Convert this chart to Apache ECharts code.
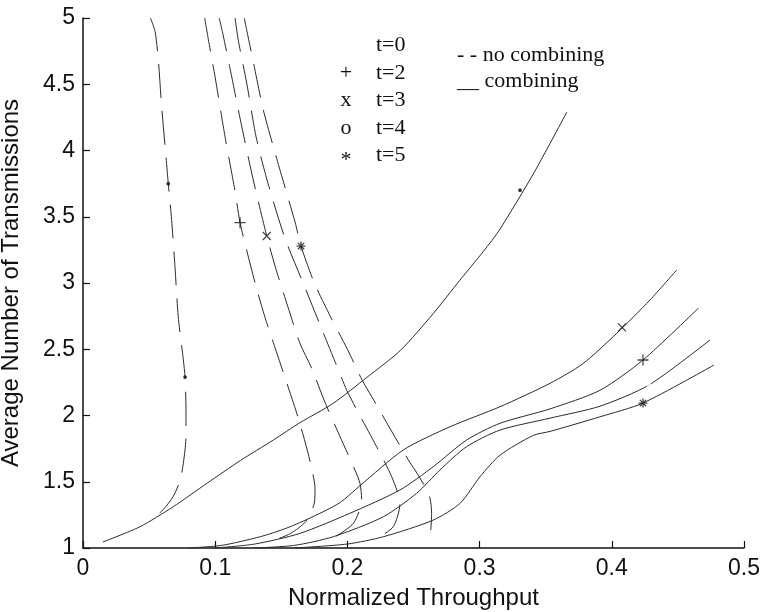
<!DOCTYPE html>
<html><head><meta charset="utf-8">
<script src="https://cdn.jsdelivr.net/npm/echarts@6/dist/echarts.min.js"></script>
<style>html,body{margin:0;padding:0;background:#fff}#c{width:764px;height:612px}</style>
</head><body><div id="c"></div>
<script>
// ---- tick labels ----
const xTicks = [0, 0.1, 0.2, 0.3, 0.4, 0.5];
const yTicks = [1, 1.5, 2, 2.5, 3, 3.5, 4, 4.5, 5];

// ---- no combining (dashed) ----
const noCombT0 = [[0.051,5.0],[0.0545,4.9],[0.057,4.68],[0.0595,4.33],[0.0628,3.95],[0.0645,3.75],[0.067,3.48],[0.0696,3.12],[0.072,2.75],[0.0759,2.42],[0.0772,2.29],[0.0779,2.04],[0.0779,1.84],[0.0759,1.64],[0.0734,1.51],[0.0683,1.39],[0.0607,1.29],[0.053,1.22]];
const noCombT2 = [[0.092,5.0],[0.0955,4.8],[0.1,4.55],[0.1075,4.1],[0.1145,3.72],[0.1188,3.455],[0.124,3.24],[0.131,2.97],[0.138,2.73],[0.146,2.49],[0.154,2.25],[0.1616,2.02],[0.168,1.8],[0.173,1.6],[0.1755,1.45],[0.175,1.34],[0.1685,1.2],[0.157,1.11],[0.14,1.04]];
const noCombT3 = [[0.103,5.0],[0.1057,4.885],[0.1112,4.62],[0.1188,4.243],[0.1288,3.777],[0.139,3.355],[0.1455,3.12],[0.155,2.82],[0.1641,2.545],[0.173,2.356],[0.183,2.1],[0.194,1.85],[0.2057,1.589],[0.2095,1.488],[0.2108,1.362],[0.2045,1.186],[0.19,1.08]];
const noCombT4 = [[0.115,5.0],[0.1175,4.83],[0.124,4.5],[0.131,4.1],[0.14,3.75],[0.1528,3.337],[0.1665,3.0],[0.1807,2.65],[0.1909,2.4],[0.1995,2.19],[0.2032,2.117],[0.2234,1.74],[0.2335,1.538],[0.2398,1.337],[0.2347,1.161],[0.222,1.07]];
const noCombT5 = [[0.122,5.0],[0.1238,4.91],[0.1288,4.67],[0.1364,4.306],[0.1465,3.94],[0.1604,3.46],[0.1649,3.279],[0.175,3.0],[0.187,2.75],[0.2,2.5],[0.211,2.27],[0.2184,2.142],[0.2461,1.664],[0.2511,1.589],[0.2587,1.463],[0.2625,1.375],[0.2637,1.262],[0.263,1.12]];

// ---- combining (solid) ----
const combT0 = [[0.015,1.045],[0.043,1.16],[0.068,1.31],[0.094,1.49],[0.119,1.66],[0.144,1.815],[0.164,1.945],[0.189,2.09],[0.215,2.29],[0.24,2.49],[0.265,2.77],[0.285,3.02],[0.303,3.24],[0.315,3.4],[0.341,3.83],[0.366,4.29]];
const combT3 = [[0.08,1.0],[0.105,1.02],[0.134,1.085],[0.154,1.15],[0.174,1.237],[0.194,1.34],[0.2095,1.47],[0.2423,1.74],[0.2776,1.915],[0.3154,2.066],[0.3533,2.243],[0.378,2.39],[0.4037,2.62],[0.4289,2.872],[0.4491,3.098]];
const combT2 = [[0.1,1.0],[0.13,1.03],[0.164,1.11],[0.2019,1.262],[0.2398,1.438],[0.265,1.614],[0.2902,1.815],[0.3154,1.941],[0.3533,2.05],[0.391,2.19],[0.4236,2.419],[0.4654,2.809]];
const combT4 = [[0.13,1.0],[0.16,1.02],[0.1893,1.085],[0.2272,1.236],[0.2524,1.413],[0.27,1.589],[0.2902,1.765],[0.3154,1.89],[0.3533,1.98],[0.391,2.07],[0.4281,2.23],[0.4743,2.57]];
const combT5 = [[0.16,1.0],[0.2,1.03],[0.2272,1.085],[0.265,1.211],[0.2852,1.337],[0.3003,1.538],[0.3154,1.7],[0.3406,1.85],[0.3533,1.88],[0.391,1.99],[0.4236,2.094],[0.4773,2.381]];

// ---- marker points ----
const plusPts = [[0.1188,3.455],[0.4236,2.419]];
const crossPts = [[0.139,3.355],[0.4077,2.665]];
const circlePts = [[0.1528,3.337],[0.4281,2.23]];
const starPts = [[0.1649,3.279],[0.4236,2.094]];
const dotPts = [[0.0645,3.75],[0.0772,2.29],[0.3306,3.70]];

// ---- legend text ----
const legendSymbols = ['', '+', 'x', 'o', '*'];
const legendLabels = ['t=0', 't=2', 't=3', 't=4', 't=5'];
const styleLabels = ['- - no combining', '__ combining'];

const LINE = '#2b2b2b';
function line(name, data, dashed) {
  return { type: 'line', name, data, showSymbol: false, smooth: 0.25, silent: true,
    lineStyle: { color: LINE, width: 1, type: dashed ? [34, 13] : 'solid' }, z: 2 };
}
function marks(data, symbol, size) {
  return { type: 'scatter', data, symbol, symbolSize: size, silent: true, z: 3,
    itemStyle: { color: symbol === 'circle' ? '#222' : 'transparent', borderColor: '#1a1a1a', borderWidth: 1.3 } };
}

const SERIF = '"Liberation Serif", "Times New Roman", serif';
const SANS = '"Liberation Sans", Arial, Helvetica, sans-serif';
const graphics = [];
const rowY = [45, 73, 100, 128, 155];
legendLabels.forEach((t, i) => {
  if (legendSymbols[i]) graphics.push({ type: 'text', x: 346, y: rowY[i] + (legendSymbols[i] === '*' ? 5 : 0),
    style: { text: legendSymbols[i], font: '22px ' + SERIF, fill: '#111', textAlign: 'center', textVerticalAlign: 'middle' } });
  graphics.push({ type: 'text', x: 376, y: rowY[i], style: { text: t, font: '22px ' + SERIF, fill: '#111', textAlign: 'left', textVerticalAlign: 'middle' } });
});
graphics.push({ type: 'text', x: 457, y: 55, style: { text: styleLabels[0], font: '22px ' + SERIF, fill: '#111', textAlign: 'left', textVerticalAlign: 'middle' } });
graphics.push({ type: 'text', x: 457, y: 81, style: { text: styleLabels[1], font: '22px ' + SERIF, fill: '#111', textAlign: 'left', textVerticalAlign: 'middle' } });

const chart = echarts.init(document.getElementById('c'));
chart.setOption({
  animation: false,
  backgroundColor: '#fff',
  grid: { left: 83, right: 20, top: 18, bottom: 64, containLabel: false, outerBoundsMode: 'none' },
  xAxis: {
    type: 'value', min: xTicks[0], max: xTicks[xTicks.length - 1], interval: 0.1,
    name: 'Normalized Throughput', nameLocation: 'middle', nameGap: 38,
    nameTextStyle: { fontFamily: SANS, fontSize: 24, color: '#111' },
    axisLine: { show: true, lineStyle: { color: '#111', width: 1.5 } },
    axisTick: { show: true, inside: true, length: 7, lineStyle: { color: '#111', width: 1.2 } },
    axisLabel: { fontFamily: SANS, fontSize: 23, color: '#111', margin: 9,
      formatter: v => { const t = xTicks.find(a => Math.abs(a - v) < 1e-9); return t === undefined ? '' : String(t); } },
    splitLine: { show: false }
  },
  yAxis: {
    type: 'value', min: yTicks[0], max: yTicks[yTicks.length - 1], interval: 0.5,
    name: 'Average Number of Transmissions', nameLocation: 'middle', nameGap: 60,
    nameTextStyle: { fontFamily: SANS, fontSize: 24, color: '#111' },
    axisLine: { show: true, lineStyle: { color: '#111', width: 1.5 } },
    axisTick: { show: true, inside: true, length: 7, lineStyle: { color: '#111', width: 1.2 } },
    axisLabel: { fontFamily: SANS, fontSize: 23, color: '#111', margin: 8,
      formatter: v => { const t = yTicks.find(a => Math.abs(a - v) < 1e-9); return t === undefined ? '' : String(t); } },
    splitLine: { show: false }
  },
  graphic: graphics,
  series: [
    line('no combining t=0', noCombT0, true),
    line('no combining t=2', noCombT2, true),
    line('no combining t=3', noCombT3, true),
    line('no combining t=4', noCombT4, true),
    line('no combining t=5', noCombT5, true),
    line('combining t=0', combT0, false),
    line('combining t=2', combT2, false),
    line('combining t=3', combT3, false),
    line('combining t=4', combT4, false),
    line('combining t=5', combT5, false),
    marks(plusPts, 'path://M5,0L5,10M0,5L10,5', 11),
    marks(crossPts, 'path://M0,0L10,10M10,0L0,10', 8),
    marks(circlePts, 'emptyCircle', 5),
    marks(starPts, 'path://M5,0L5,10M0,5L10,5M1.5,1.5L8.5,8.5M8.5,1.5L1.5,8.5', 9),
    marks(dotPts, 'circle', 2.5)
  ]
});
</script></body></html>
